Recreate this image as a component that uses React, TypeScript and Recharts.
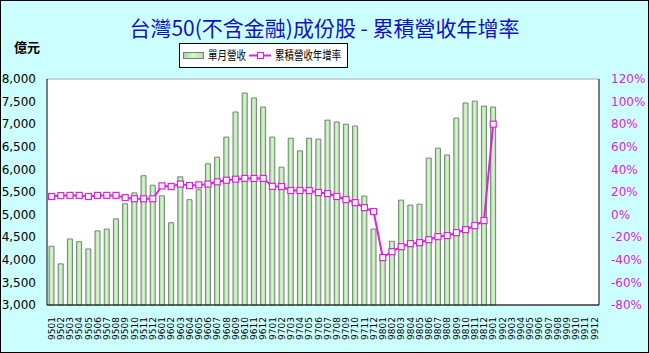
import React from "react";
import {
  ComposedChart,
  Bar,
  Line,
  XAxis,
  YAxis,
  CartesianGrid,
} from "recharts";

// 月份 9501 ~ 9912
const MONTHS = [
  "9501", "9502", "9503", "9504", "9505", "9506", "9507", "9508", "9509", "9510", "9511", "9512",
  "9601", "9602", "9603", "9604", "9605", "9606", "9607", "9608", "9609", "9610", "9611", "9612",
  "9701", "9702", "9703", "9704", "9705", "9706", "9707", "9708", "9709", "9710", "9711", "9712",
  "9801", "9802", "9803", "9804", "9805", "9806", "9807", "9808", "9809", "9810", "9811", "9812",
  "9901", "9902", "9903", "9904", "9905", "9906", "9907", "9908", "9909", "9910", "9911", "9912",
];

// 單月營收 (億元)
const REVENUE = [
  4300, 3910, 4460, 4400, 4240, 4640, 4680, 4905, 5240, 5480, 5860, 5650,
  5415, 4820, 5835, 5330, 5550, 6125, 6270, 6715, 7270, 7690, 7580, 7380,
  6715, 6050, 6690, 6410, 6690, 6670, 7090, 7050, 7000, 6960, 5410, 4680,
  4050, 4410, 5320, 5210, 5230, 6250, 6470, 6320, 7135, 7470, 7510, 7400,
  7380,
];

// 累積營收年增率 (%)
const GROWTH = [
  16, 16.8, 17, 17, 16, 17, 17, 17, 15, 14, 14, 14,
  25.4, 24.8, 27, 25.7, 26.3, 27, 29, 30.4, 31.3, 32, 32, 32,
  25, 24.8, 21.3, 21.3, 21.3, 19.5, 18.6, 16, 13.3, 10.6, 6.2, 2.7,
  -38, -32.8, -28.4, -25.7, -24.8, -22.2, -19.5, -18.6, -16, -13.3, -9.7, -5.3,
  80,
];

const LEFT_TICKS = [3000, 3500, 4000, 4500, 5000, 5500, 6000, 6500, 7000, 7500, 8000];
const RIGHT_TICKS = [-80, -60, -40, -20, 0, 20, 40, 60, 80, 100, 120];

const MAGENTA = "#E020E0";
const FONT = "Tahoma, 'DejaVu Sans', 'Noto Sans CJK TC', sans-serif";
const CJK = "'Noto Sans CJK TC', sans-serif";

const data = MONTHS.map((m, i) => ({
  month: m,
  revenue: REVENUE[i] ?? null,
  growth: GROWTH[i] ?? null,
}));

function MonthTick({ x, y, payload }: any) {
  return (
    <text
      x={x}
      y={y}
      transform={`rotate(-90, ${x}, ${y})`}
      textAnchor="end"
      dy="0.35em"
      fontSize={9}
      fontFamily={FONT}
      fill="#000"
    >
      {payload.value}
    </text>
  );
}

function SquareDot({ cx, cy }: any) {
  if (cx == null || cy == null) return null;
  return (
    <rect x={cx - 3} y={cy - 3} width={6} height={6} fill="#fff" stroke={MAGENTA} strokeWidth={1.2} />
  );
}

// 圖例 (白底黑框)，文字橫向壓窄
function LegendBox() {
  return (
    <svg
      width={169}
      height={25}
      style={{ position: "absolute", top: 42, left: 178 }}
    >
      <defs>
        <linearGradient id="legGrad" x1="0" y1="0" x2="1" y2="0">
          <stop offset="0%" stopColor="#a9d4a4" />
          <stop offset="50%" stopColor="#d8f6d0" />
          <stop offset="100%" stopColor="#b0daaa" />
        </linearGradient>
      </defs>
      <rect x={0.5} y={0.5} width={168} height={24} fill="#fff" stroke="#000" />
      <rect x={4.5} y={9.5} width={20} height={6} fill="url(#legGrad)" stroke="#6f8a6f" />
      <g transform="translate(29,17) scale(0.79,1)">
        <text x={0} y={0} fontSize={12} fontFamily={CJK}>
          單月營收
        </text>
      </g>
      <line x1={70} y1={12.5} x2={92} y2={12.5} stroke={MAGENTA} strokeWidth={2} />
      <rect x={78.5} y={9.5} width={6} height={6} fill="#fff" stroke={MAGENTA} strokeWidth={1.2} />
      <g transform="translate(96,17) scale(0.79,1)">
        <text x={0} y={0} fontSize={12} fontFamily={CJK}>
          累積營收年增率
        </text>
      </g>
    </svg>
  );
}

export default function App() {
  return (
    <div
      style={{
        position: "absolute",
        left: 0,
        top: 0,
        width: 649,
        height: 353,
        background: "#CCFFFF",
        border: "1px solid #000",
        boxSizing: "border-box",
        fontFamily: FONT,
      }}
    >
      <div
        style={{
          position: "absolute",
          top: 11,
          left: 0,
          width: 647,
          textAlign: "center",
          fontSize: 21,
          color: "#1010C8",
          fontFamily: CJK,
          lineHeight: "30px",
        }}
      >
        台灣50(不含金融)成份股 - 累積營收年增率
      </div>
      <div
        style={{
          position: "absolute",
          top: 36,
          left: 13,
          fontSize: 13,
          fontWeight: "bold",
          fontFamily: CJK,
        }}
      >
        億元
      </div>
      <LegendBox />
      <ComposedChart
        width={647}
        height={351}
        data={data}
        margin={{ top: 78, right: 0, bottom: 0, left: -1 }}
        barCategoryGap="22%"
        style={{ position: "absolute", left: 0, top: 0 }}
      >
        <defs>
          <linearGradient id="barGrad" x1="0" y1="0" x2="1" y2="0">
            <stop offset="0%" stopColor="#a9d4a4" />
            <stop offset="50%" stopColor="#d8f6d0" />
            <stop offset="100%" stopColor="#b0daaa" />
          </linearGradient>
        </defs>
        <CartesianGrid vertical={false} stroke="#a8a8a8" fill="#fff" />
        <XAxis
          dataKey="month"
          interval={0}
          height={47}
          tick={<MonthTick />}
          tickLine={false}
          axisLine={{ stroke: "#000" }}
          tickMargin={6}
        />
        <YAxis
          yAxisId="left"
          domain={[3000, 8000]}
          ticks={LEFT_TICKS}
          width={47}
          tickLine={false}
          axisLine={{ stroke: "#000" }}
          tickFormatter={(v: number) => v.toLocaleString("en-US")}
          tick={{ fontSize: 12, fill: "#000", fontFamily: FONT }}
          tickMargin={5}
        />
        <YAxis
          yAxisId="right"
          orientation="right"
          domain={[-80, 120]}
          ticks={RIGHT_TICKS}
          width={49}
          tickLine={false}
          axisLine={{ stroke: "#000" }}
          tickFormatter={(v: number) => `${v}%`}
          tick={{ fontSize: 12, fill: MAGENTA, fontFamily: FONT }}
          tickMargin={6}
        />
        <Bar
          yAxisId="left"
          dataKey="revenue"
          name="單月營收"
          fill="url(#barGrad)"
          stroke="#6f8a6f"
          strokeWidth={1}
          isAnimationActive={false}
        />
        <Line
          yAxisId="right"
          dataKey="growth"
          name="累積營收年增率"
          stroke={MAGENTA}
          strokeWidth={2}
          dot={<SquareDot />}
          activeDot={false}
          connectNulls={false}
          isAnimationActive={false}
        />
      </ComposedChart>
    </div>
  );
}
